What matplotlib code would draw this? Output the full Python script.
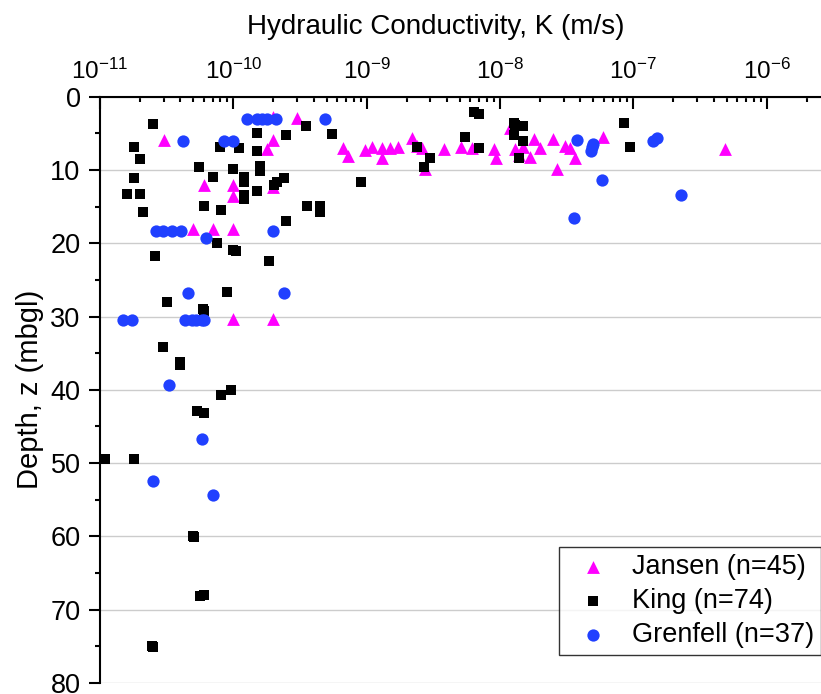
import numpy as np
import matplotlib
matplotlib.use("Agg")
import matplotlib.pyplot as plt
from matplotlib.ticker import MultipleLocator, LogLocator

plt.rcParams['font.family'] = ['Liberation Sans', 'DejaVu Sans']
plt.rcParams['mathtext.default'] = 'regular'

# Jansen (n=45)
jansen_k = [3.0e-11, 2.0e-10, 3.0e-10, 1.97e-10, 1.8e-10, 6.7e-10, 7.3e-10, 6.0e-11, 1.0e-10,
            9.9e-11, 2.0e-10, 5.0e-11, 7.1e-11, 1.0e-10, 1.0e-10, 2.0e-10, 9.7e-10, 1.09e-9,
            1.3e-9, 1.3e-9, 1.5e-9, 1.71e-9, 2.18e-9, 2.59e-9, 2.74e-9, 3.8e-9, 5.07e-9,
            6.14e-9, 9.06e-9, 9.29e-9, 1.19e-8, 1.3e-8, 1.5e-8, 1.68e-8, 1.8e-8, 2.0e-8,
            2.48e-8, 2.69e-8, 3.07e-8, 3.35e-8, 3.65e-8, 5.96e-8, 4.87e-7, 1.39e-8, 2.39e-9]
jansen_z = [5.9, 2.8, 2.9, 5.9, 7.2, 7.0, 8.1, 12.0, 12.0,
            13.5, 12.3, 18.1, 18.1, 18.1, 30.4, 30.4, 7.3, 6.9,
            7.0, 8.4, 7.0, 6.9, 5.7, 7.0, 9.8, 7.2, 6.8,
            7.0, 7.2, 8.4, 4.3, 7.2, 6.8, 8.2, 5.8, 7.0,
            5.8, 9.8, 6.7, 7.0, 8.4, 5.5, 7.2, 8.0, 6.7]

# King (n=74)
king_k = [2.51e-11, 3.51e-10, 1.5e-10, 2.48e-10, 5.5e-10, 1.8e-11, 2.0e-11, 8.0e-11, 1.11e-10,
          1.5e-10, 5.5e-11, 1.0e-10, 1.58e-10, 1.58e-10, 7.0e-11, 1.2e-10, 1.2e-10, 1.8e-11,
          1.2e-10, 1.2e-10, 1.5e-10, 2.02e-10, 2.11e-10, 2.4e-10, 1.6e-11, 2.0e-11, 2.09e-11,
          6.03e-11, 8.04e-11, 3.59e-10, 4.47e-10, 4.47e-10, 2.48e-10, 7.5e-11, 1.0e-10, 1.05e-10,
          2.6e-11, 1.85e-10, 9.0e-11, 3.2e-11, 5.89e-11, 6.03e-11, 2.95e-11, 3.98e-11, 3.98e-11,
          8.04e-11, 9.55e-11, 5.37e-11, 6.03e-11, 1.09e-11, 1.8e-11, 5.0e-11, 5.62e-11, 6.03e-11,
          2.44e-11, 2.5e-11, 9.02e-10, 2.4e-9, 2.99e-9, 2.69e-9, 5.46e-9, 6.38e-9, 6.96e-9,
          6.96e-9, 1.28e-8, 1.48e-8, 1.28e-8, 1.5e-8, 1.39e-8, 8.56e-8, 9.44e-8, 1.2e-10,
          5.1e-11, 1.3e-8]
king_z = [3.7, 4.0, 4.9, 5.2, 5.1, 6.8, 8.5, 6.9, 7.0,
          7.4, 9.6, 9.8, 9.5, 10.1, 11.0, 11.0, 11.6, 11.1,
          13.4, 13.9, 12.9, 12.0, 11.7, 11.1, 13.3, 13.3, 15.7,
          14.9, 15.4, 14.9, 14.9, 15.7, 17.0, 20.0, 20.9, 21.0,
          21.7, 22.4, 26.7, 28.0, 28.9, 29.2, 34.2, 36.2, 36.6,
          40.7, 40.0, 42.9, 43.1, 49.5, 49.5, 59.9, 68.1, 68.0,
          74.9, 75.1, 11.7, 6.8, 8.3, 9.6, 5.5, 2.1, 2.4,
          7.0, 3.6, 4.0, 5.2, 6.0, 8.3, 3.6, 6.9, 11.3,
          60.1, 3.9]

# Grenfell (n=37)
grenfell_k = [1.27e-10, 1.51e-10, 1.8e-10, 2.09e-10, 4.87e-10, 4.17e-11, 8.51e-11, 9.89e-11,
              2.63e-11, 2.95e-11, 3.45e-11, 4.03e-11, 1.97e-10, 6.21e-11, 4.59e-11, 2.4e-10,
              1.5e-11, 1.73e-11, 4.34e-11, 4.87e-11, 5.79e-11, 6.03e-11, 3.31e-11, 5.82e-11,
              2.51e-11, 7.0e-11, 3.76e-8, 3.59e-8, 4.95e-8, 4.87e-8, 4.79e-8, 1.4e-7,
              1.5e-7, 5.86e-8, 2.29e-7, 1.64e-10, 5.25e-11]
grenfell_z = [3.0, 3.0, 3.0, 3.0, 3.0, 6.0, 6.0, 6.0,
              18.3, 18.3, 18.3, 18.3, 18.3, 19.3, 26.8, 26.8,
              30.5, 30.5, 30.5, 30.5, 30.5, 30.5, 39.3, 46.7,
              52.4, 54.3, 5.9, 16.6, 6.4, 6.9, 7.4, 6.0,
              5.7, 11.4, 13.4, 3.0, 30.5]

fig = plt.figure(figsize=(8.21, 6.94), dpi=100)
ax = fig.add_axes([100 / 821, 1 - 683 / 694, 721 / 821, 586.3 / 694])

ax.scatter(jansen_k, jansen_z, marker='^', s=85, color='#FF00FF', lw=0,
           label='Jansen (n=45)', zorder=3)
ax.scatter(king_k, king_z, marker='s', s=62, color='black', lw=0,
           label='King (n=74)', zorder=3)
ax.scatter(grenfell_k, grenfell_z, marker='o', s=78, color='#2040FF', lw=0,
           label='Grenfell (n=37)', zorder=3)

ax.set_xscale('log')
ax.set_xlim(1e-11, 10 ** (-11 + 721 / 133.33))
ax.set_ylim(80, 0)

ax.xaxis.set_ticks_position('top')
ax.xaxis.set_label_position('top')
ax.xaxis.set_major_locator(LogLocator(base=10, numticks=10))
ax.xaxis.set_minor_locator(LogLocator(base=10, subs=np.arange(2, 10), numticks=20))
ax.tick_params(axis='x', which='major', direction='in', length=8.5, width=1.5,
               labelsize=17.5, pad=9)
ax.tick_params(axis='x', which='minor', direction='in', length=3.7, width=1.5)

ax.yaxis.set_major_locator(MultipleLocator(10))
ax.yaxis.set_minor_locator(MultipleLocator(5))
ax.tick_params(axis='y', which='major', direction='out', length=8, width=1.5,
               labelsize=19.5, pad=6)
ax.tick_params(axis='y', which='minor', direction='out', length=3.6, width=1.5)

ax.grid(True, axis='y', which='major', color='#cccccc', lw=1)
ax.set_axisbelow(True)

for s in ['right', 'bottom']:
    ax.spines[s].set_visible(False)
for s in ['top', 'left']:
    ax.spines[s].set_linewidth(1.5)

ax.set_xlabel('Hydraulic Conductivity, K (m/s)', fontsize=20)
ax.xaxis.set_label_coords(336 / 721, 1 + 63 / 586.3)
ax.set_ylabel('Depth, z (mbgl)', fontsize=21)
ax.yaxis.set_label_coords(-56 / 721, 0.5)

leg = ax.legend(loc='lower right', bbox_to_anchor=(1.0, 28 / 586.3), fontsize=19.5,
                frameon=True, fancybox=False, edgecolor='black',
                handletextpad=0.45, borderpad=0.25, labelspacing=0.3,
                handlelength=2.0, scatterpoints=1, borderaxespad=0)
leg.get_frame().set_linewidth(1.0)

fig.savefig('out.png', dpi=100)
